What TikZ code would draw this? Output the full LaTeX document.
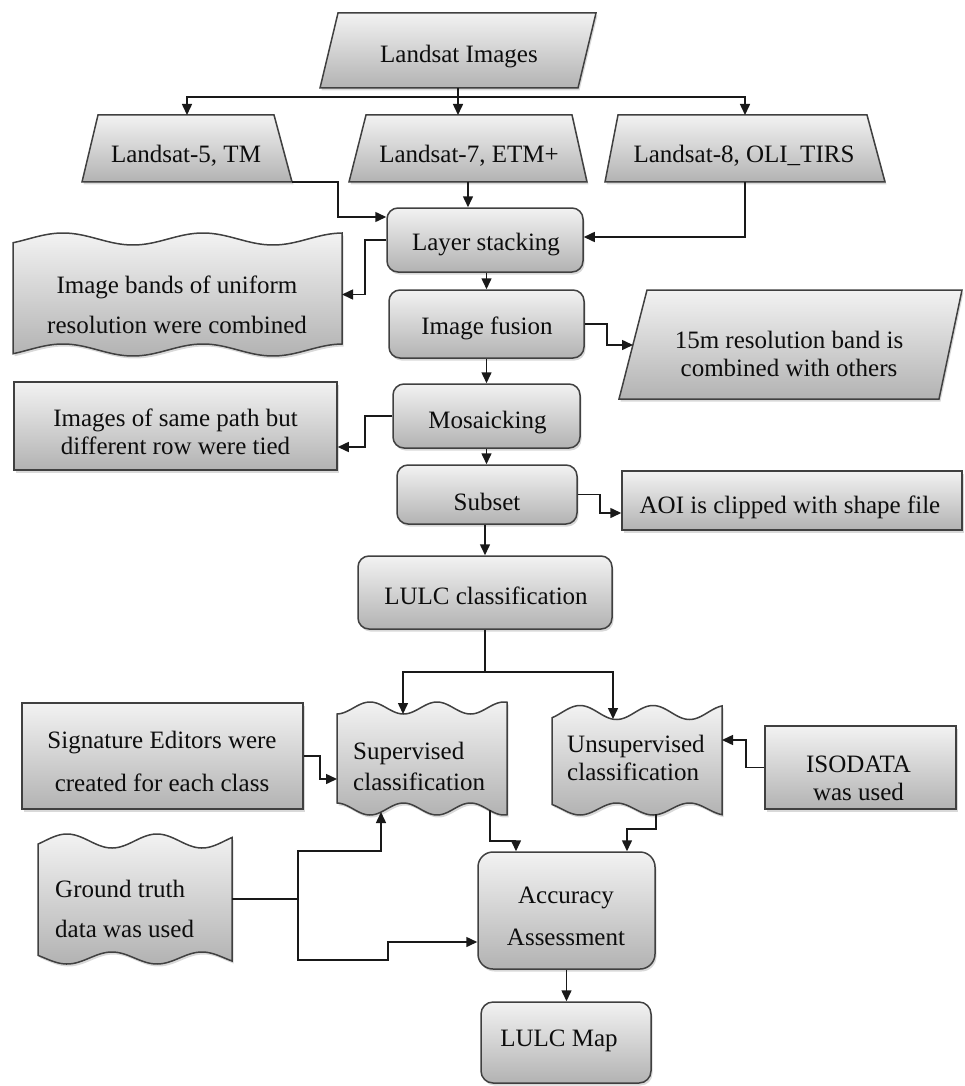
\documentclass[tikz,border=0pt]{standalone}
\usepackage{fontspec}
\setmainfont{Liberation Serif}
\usetikzlibrary{arrows.meta,shadows}
\begin{document}
\begin{tikzpicture}[x=1pt,y=-1pt,
  gfill/.style={top color=black!5, bottom color=black!30, draw=black!75, line width=1.5pt,
    drop shadow={shadow xshift=1.5pt, shadow yshift=-2.5pt, opacity=0.3}},
  rbox/.style={gfill, rounded corners=11pt, inner sep=0pt},
  sbox/.style={gfill, inner sep=0pt},
  hold/.style={inner sep=0pt, outer sep=0pt, draw=none},
  txt/.style={font=\fontsize{25}{#1}\selectfont, align=center, inner sep=0pt, text=black!95},
  txt/.default=30,
  ltxt/.style={txt=#1, align=left, anchor=west},
  ln/.style={line width=1.5pt, draw=black!90},
  arr/.style={ln, -{Triangle[length=11pt,width=10pt]}}
]
\useasboundingbox (0,0) rectangle (964,1086);

% ---------- shapes ----------
% Landsat Images (parallelogram)
\path[gfill] (338,13) -- (596,13) -- (578,88) -- (320,88) -- cycle;
\node[hold, minimum width=276, minimum height=75] (li) at (458,50.5) {};
% Landsat trapezia
\path[gfill] (98,115) -- (274,115) -- (292,182) -- (82,182) -- cycle;
\node[hold, minimum width=210, minimum height=67] (l5) at (187,148.5) {};
\path[gfill] (366,115) -- (572,115) -- (587,182) -- (349,182) -- cycle;
\node[hold, minimum width=238, minimum height=67] (l7) at (468,148.5) {};
\path[gfill] (618,115) -- (867,115) -- (885,182) -- (605,182) -- cycle;
\node[hold, minimum width=280, minimum height=67] (l8) at (745,148.5) {};

% Layer stacking
\node[rbox, minimum width=196, minimum height=64] (ls) at (485,240) {};
% Image bands (wavy)
\path[gfill] plot[domain=13:342, samples=90] (\x,{239-6*sin((\x-28)*2.5714)})
  -- plot[domain=342:13, samples=90] (\x,{350-6*sin((\x-28)*2.5714)}) -- cycle;
\node[hold, minimum width=329, minimum height=125] (ib) at (177.5,294.5) {};
% Image fusion
\node[rbox, minimum width=195, minimum height=68] (fus) at (486.5,324) {};
% 15m parallelogram
\path[gfill] (647,290) -- (962,290) -- (939,399) -- (619,399) -- cycle;
\node[hold, minimum width=343, minimum height=109] (r15) at (790.5,344.5) {};
% Mosaicking
\node[rbox, minimum width=187, minimum height=64] (mos) at (486.5,416) {};
% Images of same path
\node[sbox, minimum width=323, minimum height=88] (isp) at (175.5,426) {};
% Subset
\node[rbox, minimum width=180, minimum height=59] (sub) at (487,494.5) {};
% AOI
\node[sbox, minimum width=340, minimum height=59] (aoi) at (792,500.5) {};
% LULC classification
\node[rbox, minimum width=254, minimum height=73] (lc) at (485,592.5) {};
% Signature editors
\node[sbox, minimum width=281, minimum height=106] (sig) at (162.5,756) {};
% Supervised (wavy)
\path[gfill] plot[domain=337:507, samples=90] (\x,{708-6*sin((\x-353.25)*5.3731)})
  -- plot[domain=507:337, samples=90] (\x,{809+6*sin((\x-353.25)*5.3731)}) -- cycle;
\node[hold, minimum width=170, minimum height=113] (sup) at (422,758.5) {};
% Unsupervised (wavy)
\path[gfill] plot[domain=552:722, samples=90] (\x,{712.5-7*sin((\x-561.75)*4.9315)})
  -- plot[domain=722:552, samples=90] (\x,{809+6*sin((\x-561.75)*4.9315)}) -- cycle;
\node[hold, minimum width=170, minimum height=111] (uns) at (637,760.5) {};
% ISODATA
\node[sbox, minimum width=191, minimum height=83] (iso) at (860.5,767.5) {};
% Ground truth (wavy)
\path[gfill] plot[domain=38:232, samples=90] (\x,{841-7*sin((\x-44.5)*4)})
  -- plot[domain=232:38, samples=90] (\x,{958+6*sin((\x-44.5)*4)}) -- cycle;
\node[hold, minimum width=194, minimum height=132] (gt) at (135,899) {};
% Accuracy assessment
\node[rbox, rounded corners=15pt, minimum width=177, minimum height=117] (acc) at (566.5,910.5) {};
% LULC Map
\node[rbox, rounded corners=12pt, minimum width=170, minimum height=81] (map) at (566,1042.5) {};

% ---------- texts ----------
\node[txt] (lit) at (459,57) {Landsat Images};
\node[txt] (l5t) at (186,156) {Landsat-5, TM};
\node[txt] (l7t) at (469,156) {Landsat-7, ETM+};
\node[txt] (l8t) at (744,156) {Landsat-8, OLI\_TIRS};
\node[txt] (lst) at (486,245) {Layer stacking};
\node[txt=40] (ibt) at (177,305) {Image bands of uniform\\resolution were combined};
\node[txt] (fust) at (487,328) {Image fusion};
\node[txt=28] (r15t) at (789,354) {15m resolution band is\\combined with others};
\node[txt] (most) at (487.5,423) {Mosaicking};
\node[txt=28] (ispt) at (175.5,432) {Images of same path but\\different row were tied};
\node[txt] (subt) at (487,502) {Subset};
\node[txt] (aoit) at (790,507) {AOI is clipped with shape file};
\node[txt] (lct) at (486,596) {LULC classification};
\node[txt=43] (sigt) at (162,761.5) {Signature Editors were\\created for each class};
\node[ltxt=31] (supt) at (353,766.5) {Supervised\\classification};
\node[ltxt=28] (unst) at (567,758) {Unsupervised\\classification};
\node[txt=28] (isot) at (858.5,778) {ISODATA\\was used};
\node[ltxt=40] (gtt) at (55,909) {Ground truth\\data was used};
\node[txt=42] (acct) at (566,916) {Accuracy\\Assessment};
\node[txt] (mapt) at (559,1041) {LULC Map};

% ---------- connectors ----------
\coordinate (bus) at (458,97);
\draw[ln] (li.south) -- (bus);
\draw[arr] (bus) -| (l5.north);
\draw[arr] (bus) -- (bus |- l7.north);
\draw[arr] (bus) -| (l8.north);

\draw[arr] (l7.south) -- (ls.north -| l7.south);
\draw[arr] (l5.south east) -| (338,217) -- (ls.west |- 0,217);
\draw[arr] (l8.south) |- (ls.east |- 0,237);
\draw[arr] (ls.west) -- (365,240) |- (ib.east);
\draw[arr] (ls.south -| fus.north) -- (fus.north);

\coordinate (r15in) at (633,345);
\draw[arr] (fus.east) -- (607,324) |- (r15in);
\draw[arr] (fus.south) -- (mos.north -| fus.south);
\draw[arr] (mos.west) -- (365,416) |- (isp.east |- 0,447);
\draw[arr] (mos.south) -- (sub.north -| mos.south);
\draw[arr] (sub.east) -- (600,494.5) |- (aoi.west |- 0,513);
\draw[arr] (sub.south -| lc.north) -- (lc.north);

\coordinate (split) at (485,672);
\coordinate (supIn) at (403,714);
\coordinate (unsIn) at (613,719);
\draw[ln] (lc.south) -- (split);
\draw[arr] (split) -| (supIn);
\draw[arr] (split) -| (unsIn);

\draw[arr] (sig.east) -- (320,756) |- (sup.west |- 0,779);
\draw[arr] (iso.west) -- (746,767.5) |- (uns.east |- 0,740);

\coordinate (supOut) at (490,810);
\coordinate (unsOut) at (656,814);
\draw[arr] (supOut) |- (516,841) -- (acc.north -| 516,0);
\draw[arr] (unsOut) |- (627,829) -- (acc.north -| 627,0);

\coordinate (gj) at (298,899);
\coordinate (supIn2) at (381,812);
\draw[ln] (gt.east) -- (gj);
\draw[arr] (gj) |- (381,851) -- (supIn2);
\draw[arr] (gj) |- (388,960) |- (acc.west |- 0,942);

\draw[arr] (acc.south) -- (map.north -| acc.south);
\end{tikzpicture}
\end{document}
